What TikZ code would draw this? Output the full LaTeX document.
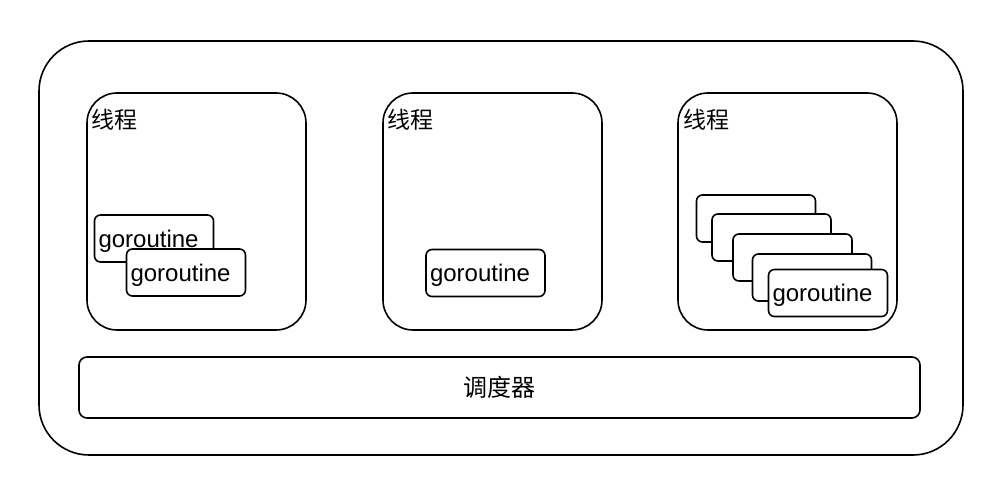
\documentclass[tikz,border=0pt]{standalone}
\usepackage{fontspec}
\setmainfont{Liberation Sans}
\newfontfamily\cjk{Noto Sans CJK SC}
\usetikzlibrary{positioning}
\tikzset{
    outerbox/.style={
        draw=black,
        line width=1.6pt,
        rectangle,
        rounded corners=50pt,
        minimum width=924pt,
        minimum height=414pt
    },
    thread/.style={
        draw=black,
        line width=1.6pt,
        rectangle,
        rounded corners=30pt,
        minimum width=219pt,
        minimum height=237pt
    },
    gor/.style={
        draw=black,
        fill=white,
        line width=1.6pt,
        rectangle,
        rounded corners=6pt,
        minimum width=119pt,
        minimum height=47pt,
        text width=111pt,
        text depth=0pt,
        inner xsep=4pt,
        align=left,
        font=\fontsize{24}{28}\selectfont
    },
    sched/.style={
        draw=black,
        line width=1.6pt,
        rectangle,
        rounded corners=8pt,
        minimum width=841pt,
        minimum height=61pt,
        font=\cjk\fontsize{24}{28}\selectfont
    },
    tlabel/.style={
        font=\cjk\fontsize{23}{26}\selectfont,
        inner sep=1pt,
        anchor=west
    }
}

\begin{document}
\begin{tikzpicture}[x=1pt,y=-1pt]
    \useasboundingbox (0,0) rectangle (994,502);
    \node[outerbox] (runtime) at (501,248) {};
    % threads
    \node[thread] (t1) at (196.5,211.5) {};
    \node[thread, right=75.4pt of t1] (t2) {};
    \node[thread, right=74.4pt of t2] (t3) {};
    \node[tlabel] (t1label) at (90,120) {线程};
    \node[tlabel] (t2label) at (386,120) {线程};
    \node[tlabel] (t3label) at (682,120) {线程};
    % goroutines
    \node[gor] (g1a) at (154,238.5) {goroutine};
    \node[gor] (g1b) at (186,272.5) {goroutine};
    \node[gor] (g2a) at (485.5,273) {goroutine};
    \node[gor] (g3a) at (756,218.5) {};
    \node[gor] (g3b) at (771.5,237.5) {};
    \node[gor] (g3c) at (792.5,257.5) {};
    \node[gor] (g3d) at (812,277.5) {};
    \node[gor] (g3e) at (828,293) {goroutine};
    % scheduler
    \node[sched] (sched) at (499.5,387.5) {调度器};
\end{tikzpicture}
\end{document}
